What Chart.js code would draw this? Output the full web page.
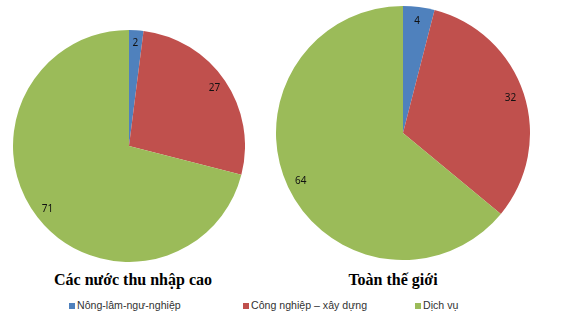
<!DOCTYPE html>
<html>
<head>
<meta charset="utf-8">
<script src="https://cdn.jsdelivr.net/npm/chart.js@4/dist/chart.umd.min.js"></script>
<style>
  html, body { margin: 0; padding: 0; background: #fff; }
  #wrap { position: relative; width: 579px; height: 320px; overflow: hidden; }
  .pie { position: absolute; }
  .title {
    position: absolute;
    top: 271px;
    font: bold 16px "Liberation Serif", "Times New Roman", serif;
    color: #000;
    white-space: nowrap;
    transform: translateX(-50%);
  }
  #legend {
    position: absolute;
    top: 298px;
    left: 0;
    width: 579px;
    font: 10.6px "Liberation Sans", Arial, sans-serif;
    color: #333;
  }
  .item { position: absolute; white-space: nowrap; line-height: 15px; }
  .box { display: inline-block; width: 6px; height: 6px; margin-right: 2px; vertical-align: 0px; }
</style>
</head>
<body>
<div id="wrap">
  <div class="pie" style="left:13px; top:30px; width:232px; height:232px;"><canvas id="left"></canvas></div>
  <div class="pie" style="left:276px; top:6px; width:254px; height:254px;"><canvas id="right"></canvas></div>
  <div class="title" id="t0" style="left:133px;"></div>
  <div class="title" id="t1" style="left:393px;"></div>
  <div id="legend"></div>
</div>
<script>
const categories = ['Nông-lâm-ngư-nghiệp', 'Công nghiệp – xây dựng', 'Dịch vụ'];
const highIncome = [2, 27, 71];
const world = [4, 32, 64];
const titles = ['Các nước thu nhập cao', 'Toàn thế giới'];
const colors = ['#4F81BD', '#C0504D', '#9BBB59'];
const legendX = [69, 243, 415];

// values written near the rim of each slice, like the spreadsheet original
const sliceLabels = {
  id: 'sliceLabels',
  afterDatasetsDraw(chart) {
    const { ctx } = chart;
    const meta = chart.getDatasetMeta(0);
    const data = chart.data.datasets[0].data;
    ctx.save();
    ctx.font = '10px "Noto Sans", "Liberation Sans", sans-serif';
    ctx.fillStyle = '#111';
    ctx.textAlign = 'center';
    ctx.textBaseline = 'middle';
    meta.data.forEach((arc, i) => {
      const p = arc.getProps(['x', 'y', 'startAngle', 'endAngle', 'outerRadius'], true);
      const mid = (p.startAngle + p.endAngle) / 2;
      const r = p.outerRadius * 0.89;
      ctx.fillText(String(data[i]), p.x + Math.cos(mid) * r, p.y + Math.sin(mid) * r);
    });
    ctx.restore();
  },
};

const makePie = (id, values) => new Chart(document.getElementById(id), {
  type: 'pie',
  data: {
    labels: categories,
    datasets: [{
      data: values,
      backgroundColor: colors,
      borderWidth: 0,
    }],
  },
  options: {
    responsive: true,
    maintainAspectRatio: false,
    animation: false,
    layout: { padding: 0 },
    plugins: {
      legend: { display: false },
      tooltip: { enabled: false },
    },
  },
  plugins: [sliceLabels],
});

makePie('left', highIncome);
makePie('right', world);

document.getElementById('t0').textContent = titles[0];
document.getElementById('t1').textContent = titles[1];

const legend = document.getElementById('legend');
categories.forEach((name, i) => {
  const item = document.createElement('div');
  item.className = 'item';
  item.style.left = legendX[i] + 'px';
  const box = document.createElement('span');
  box.className = 'box';
  box.style.background = colors[i];
  item.appendChild(box);
  item.appendChild(document.createTextNode(name));
  legend.appendChild(item);
});
</script>
</body>
</html>
